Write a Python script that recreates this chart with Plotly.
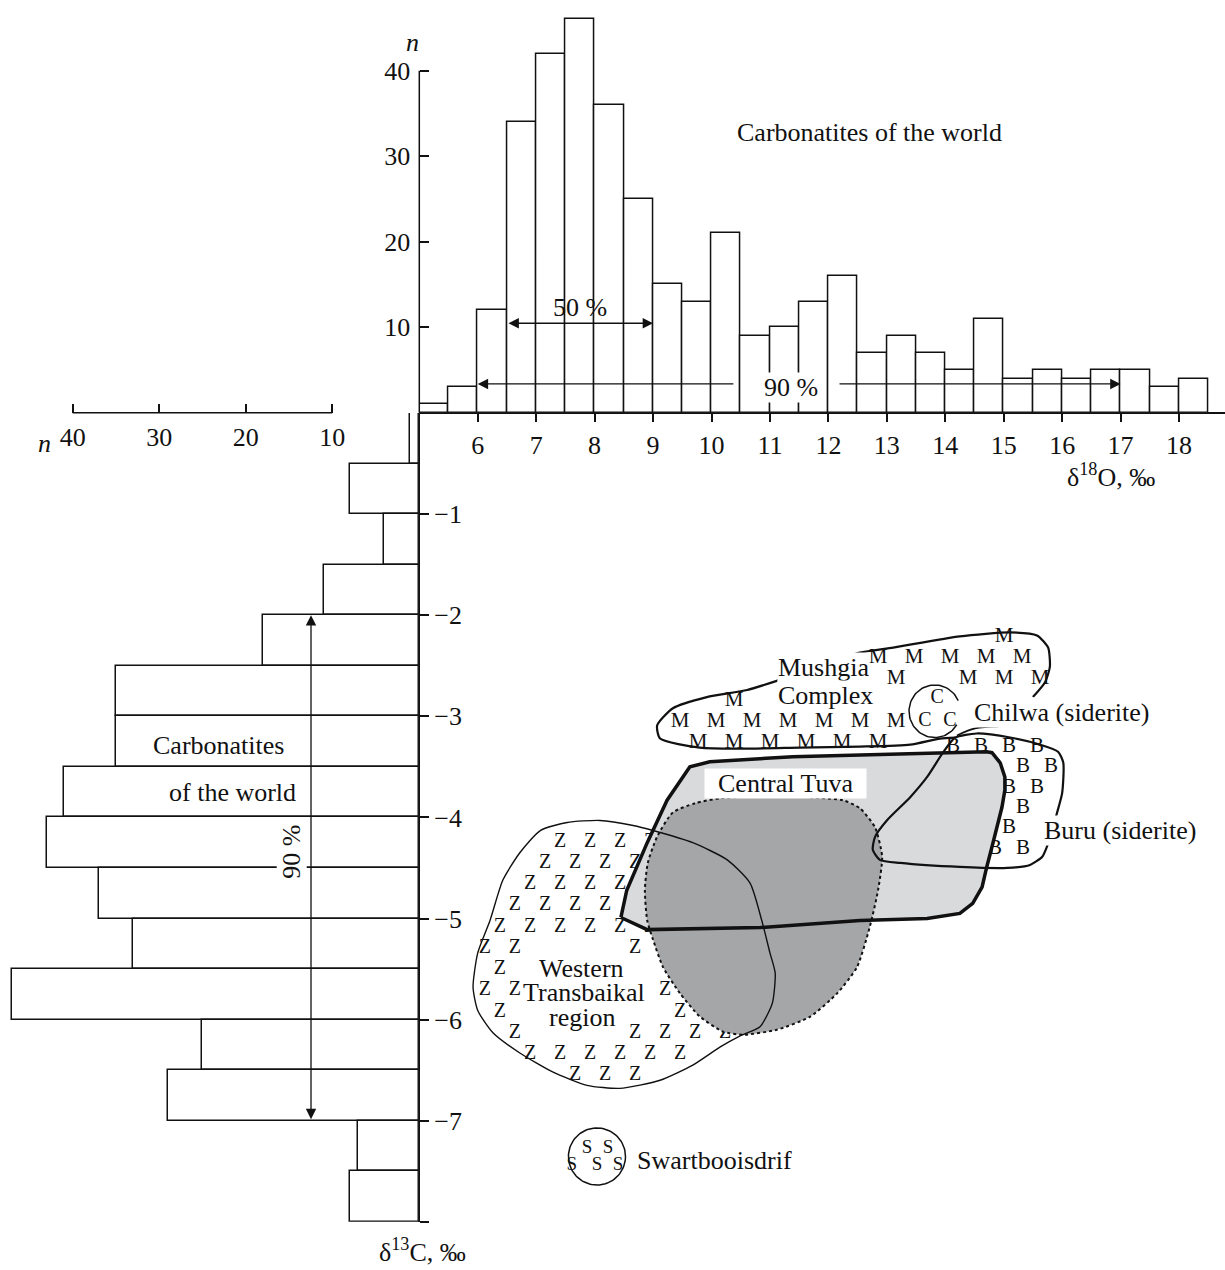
import numpy as np
import plotly.graph_objects as go

# ---------------- data ----------------
BIN_WIDTH = 0.5
O18_BIN_START = [5.0, 5.5, 6.0, 6.5, 7.0, 7.5, 8.0, 8.5, 9.0, 9.5, 10.0, 10.5, 11.0, 11.5,
                 12.0, 12.5, 13.0, 13.5, 14.0, 14.5, 15.0, 15.5, 16.0, 16.5, 17.0, 17.5, 18.0]
O18_COUNTS = [1, 3, 12, 34, 42, 46, 36, 25, 15, 13, 21, 9, 10, 13,
              16, 7, 9, 7, 5, 11, 4, 5, 4, 5, 5, 3, 4]

C13_BIN_TOP = [0.0, -0.5, -1.0, -1.5, -2.0, -2.5, -3.0, -3.5,
               -4.0, -4.5, -5.0, -5.5, -6.0, -6.5, -7.0, -7.5]
C13_COUNTS = [1, 8, 4, 11, 18, 35, 35, 41, 43, 37, 33, 47, 25, 29, 7, 8]

O18_TICKS = [6, 7, 8, 9, 10, 11, 12, 13, 14, 15, 16, 17, 18]
C13_TICKS = [-1, -2, -3, -4, -5, -6, -7, -8]
C13_TICKTEXT = ["\u22121", "\u22122", "\u22123", "\u22124", "\u22125", "\u22126", "\u22127", ""]
N_TICKS = [10, 20, 30, 40]

# fields in (delta18O, delta13C)
CENTRAL_TUVA_O18 = [8.45, 8.55, 8.90, 9.24, 9.63, 9.97, 11.39, 13.23, 14.71, 14.80, 14.94, 15.02,
                    15.02, 14.97, 14.89, 14.80, 14.71, 14.63, 14.47, 14.25, 13.69, 12.54, 10.83, 8.90]
CENTRAL_TUVA_C13 = [-4.99, -4.72, -4.25, -3.83, -3.50, -3.45, -3.40, -3.37, -3.35, -3.36, -3.46, -3.60,
                    -3.73, -3.90, -4.10, -4.29, -4.49, -4.69, -4.85, -4.95, -5.00, -5.02, -5.09, -5.11]

CORE_O18 = [10.15, 11.17, 12.25, 12.54, 12.80, 12.92, 12.85, 12.71, 12.49, 12.15, 11.69, 11.12,
            10.54, 10.20, 9.80, 9.46, 9.17, 9.00, 8.90, 8.86, 8.91, 9.07, 9.34, 9.72]
CORE_C13 = [-3.81, -3.79, -3.83, -3.91, -4.10, -4.39, -4.72, -5.08, -5.48, -5.74, -5.97, -6.10,
            -6.15, -6.12, -5.97, -5.74, -5.48, -5.21, -5.02, -4.72, -4.45, -4.19, -3.95, -3.86]

TRANSBAIKAL_O18 = [8.66, 9.00, 9.68, 10.27, 10.66, 10.86, 11.00, 11.09, 11.04, 10.83, 10.49, 10.15,
                   9.68, 9.12, 8.43, 7.87, 7.29, 6.72, 6.26, 6.00, 5.92, 6.00, 6.21, 6.43, 6.72,
                   7.07, 7.53, 8.09]
TRANSBAIKAL_C13 = [-4.08, -4.13, -4.25, -4.42, -4.65, -5.02, -5.34, -5.54, -5.84, -6.07, -6.16, -6.27,
                   -6.45, -6.60, -6.68, -6.65, -6.52, -6.33, -6.13, -5.91, -5.68, -5.34, -5.02, -4.62,
                   -4.35, -4.13, -4.05, -4.03]

MUSHGIA_O18 = [15.50, 15.71, 15.79, 15.76, 15.57, 15.11, 14.25, 13.11, 12.54, 12.03, 11.17, 10.61,
               9.92, 9.34, 9.07, 9.12, 9.80, 10.49, 11.51, 12.54, 13.40, 13.91, 14.17]
MUSHGIA_C13 = [-2.81, -2.66, -2.51, -2.32, -2.20, -2.17, -2.21, -2.32, -2.37, -2.47, -2.64, -2.74,
               -2.81, -2.92, -3.09, -3.22, -3.31, -3.32, -3.31, -3.30, -3.28, -3.22, -3.21]

BURU_O18 = [14.17, 14.54, 15.11, 15.62, 15.93, 16.02, 16.00, 15.91, 15.83, 15.74, 15.66, 15.45,
            15.06, 14.25, 13.23, 12.88, 12.76, 12.80, 13.00, 13.40, 13.69, 13.96]
BURU_C13 = [-3.21, -3.17, -3.21, -3.28, -3.35, -3.46, -3.76, -3.96, -4.13, -4.29, -4.39, -4.47,
            -4.50, -4.49, -4.45, -4.42, -4.32, -4.19, -4.03, -3.80, -3.60, -3.36]

CHILWA_LINK_O18 = [14.20, 14.51, 14.91]
CHILWA_LINK_C13 = [-3.19, -3.12, -3.10]

CHILWA_CENTER = (13.82, -2.95)
CHILWA_HALF = (0.44, 0.26)
CHILWA_C_O18 = [13.86, 13.65, 14.08]
CHILWA_C_C13 = [-2.82, -3.05, -3.05]

SWART_CENTER = (8.04, -7.354)
SWART_HALF = (0.488, 0.282)
SWART_S_O18 = [7.87, 8.23, 7.61, 8.04, 8.40]
SWART_S_C13 = [-7.27, -7.27, -7.44, -7.44, -7.44]

# ---------------- geometry of the page ----------------
W, H = 1225, 1270
AX_X = 419.3          # vertical axis line (px)
BASE_Y = 412.7        # horizontal axis lines (px)
PX_O18 = 58.44
PX_C13 = 101.1
PX_N_TOP = 8.55
PX_N_LEFT = 8.65

FONT = "Liberation Serif"
BLACK = "#111111"

x_dom = [AX_X / W, 1.0]
x_rng = [5.0, 5.0 + (W - AX_X) / PX_O18]
y_dom = [1 - (413 + 8 * PX_C13) / H, 1 - 413 / H]
y2_dom = [1 - BASE_Y / H, 1.0]
y2_rng = [0, BASE_Y / PX_N_TOP]
x2_dom = [0, 418.7 / W]
x2_rng = [418.7 / PX_N_LEFT, 0]
base_paper = 1 - BASE_Y / H

# field labels: shown text, plain text, x, y, xanchor, approx width (px)
FIELD_LABELS = [
    ("\u00a0\u00a0Central Tuva\u00a0\u00a0", "Central Tuva", 11.27, -3.66, "center", 160),
    ("Mushgia", "Mushgia", 11.91, -2.52, "center", 92),
    ("Complex", "Complex", 11.95, -2.79, "center", 96),
    ("Chilwa (siderite)", "Chilwa (siderite)", 14.47, -2.967, "left", 178),
    ("Buru (siderite)", "Buru (siderite)", 15.67, -4.125, "left", 154),
    ("Western", "Western", 7.78, -5.49, "center", 88),
    ("Transbaikal", "Transbaikal", 7.81, -5.727, "center", 124),
    ("region", "region", 7.78, -5.984, "center", 68),
]
LABEL_HALF_H_PX = 15


def inside(px, py, xs, ys):
    c = False
    j = len(xs) - 1
    for i in range(len(xs)):
        if (ys[i] > py) != (ys[j] > py):
            xint = (xs[j] - xs[i]) * (py - ys[i]) / (ys[j] - ys[i]) + xs[i]
            if px < xint:
                c = not c
        j = i
    return c


def blocked(xx, yy, lw, lh):
    for _, _, cx, cy, anc, wpx in FIELD_LABELS:
        hw = wpx / 2 / PX_O18
        x0 = cx - hw if anc == "center" else cx
        x1 = cx + hw if anc == "center" else cx + 2 * hw
        hh = LABEL_HALF_H_PX / PX_C13
        if x0 - lw < xx < x1 + lw and cy - hh - lh < yy < cy + hh + lh:
            return True
    dx = (xx - CHILWA_CENTER[0]) / (CHILWA_HALF[0] + lw)
    dy = (yy - CHILWA_CENTER[1]) / (CHILWA_HALF[1] + lh)
    return dx * dx + dy * dy < 1.0


def letter_grid(x0, y0, dx, dy, off, pxs, pys, mx, my, lw, lh):
    xs, ys = [], []
    for r in range(-30, 31):
        yy = y0 + r * dy
        sh = off if r % 2 else 0.0
        for k in range(-40, 41):
            xx = x0 + sh + k * dx
            pts = [(xx, yy), (xx - mx, yy), (xx + mx, yy), (xx, yy - my), (xx, yy + my)]
            if all(inside(a, b, pxs, pys) for a, b in pts) and not blocked(xx, yy, lw, lh):
                xs.append(xx)
                ys.append(yy)
    return xs, ys


def closed(a):
    return list(a) + [a[0]]


fig = go.Figure()

# ---- top histogram (delta18O) ----
fig.add_trace(go.Bar(
    x=[b + BIN_WIDTH / 2 for b in O18_BIN_START], y=O18_COUNTS, width=BIN_WIDTH,
    marker=dict(color="white", line=dict(color=BLACK, width=1.5)),
    xaxis="x", yaxis="y2", hoverinfo="skip"))

# ---- left histogram (delta13C) ----
fig.add_trace(go.Bar(
    y=[b - BIN_WIDTH / 2 for b in C13_BIN_TOP], x=C13_COUNTS, width=BIN_WIDTH, orientation="h",
    marker=dict(color="white", line=dict(color=BLACK, width=1.5)),
    xaxis="x2", yaxis="y", hoverinfo="skip"))

# ---- hatch letters ----
mx_, my_ = letter_grid(9.461, -3.052, 0.616, 0.2107, 0.308, MUSHGIA_O18, MUSHGIA_C13,
                       0.05, 0.02, 0.15, 0.10)
bx_, by_ = letter_grid(14.133, -3.30, 0.479, 0.2018, 0.2396, BURU_O18, BURU_C13,
                       0.04, 0.02, 0.11, 0.10)
zx_, zy_ = letter_grid(6.894, -4.240, 0.5134, 0.2102, 0.2567, TRANSBAIKAL_O18, TRANSBAIKAL_C13,
                       0.04, 0.03, 0.10, 0.10)
for xs, ys, ch, sz in [(mx_, my_, "M", 21), (bx_, by_, "B", 21), (zx_, zy_, "Z", 20)]:
    fig.add_trace(go.Scatter(x=xs, y=ys, mode="text", text=[ch] * len(xs),
                             textfont=dict(family=FONT, size=sz, color=BLACK),
                             xaxis="x", yaxis="y", hoverinfo="skip"))

# ---- Central Tuva fill ----
fig.add_trace(go.Scatter(x=closed(CENTRAL_TUVA_O18), y=closed(CENTRAL_TUVA_C13), mode="none",
                         fill="toself", fillcolor="#d9dadc", xaxis="x", yaxis="y", hoverinfo="skip"))
# ---- dark core ----
fig.add_trace(go.Scatter(x=closed(CORE_O18), y=closed(CORE_C13), mode="lines",
                         fill="toself", fillcolor="#a5a6a8",
                         line=dict(color=BLACK, width=2, dash="dot", shape="spline", smoothing=0.6),
                         xaxis="x", yaxis="y", hoverinfo="skip"))
# ---- Central Tuva outline ----
fig.add_trace(go.Scatter(x=closed(CENTRAL_TUVA_O18), y=closed(CENTRAL_TUVA_C13), mode="lines",
                         line=dict(color=BLACK, width=3.5), xaxis="x", yaxis="y", hoverinfo="skip"))
# ---- outlines ----
fig.add_trace(go.Scatter(x=closed(TRANSBAIKAL_O18), y=closed(TRANSBAIKAL_C13), mode="lines",
                         line=dict(color=BLACK, width=1.4, shape="spline", smoothing=0.6),
                         xaxis="x", yaxis="y", hoverinfo="skip"))
fig.add_trace(go.Scatter(x=closed(BURU_O18), y=closed(BURU_C13), mode="lines",
                         line=dict(color=BLACK, width=2.2, shape="spline", smoothing=0.6),
                         xaxis="x", yaxis="y", hoverinfo="skip"))
fig.add_trace(go.Scatter(x=MUSHGIA_O18, y=MUSHGIA_C13, mode="lines",
                         line=dict(color=BLACK, width=2.2, shape="spline", smoothing=0.6),
                         xaxis="x", yaxis="y", hoverinfo="skip"))
fig.add_trace(go.Scatter(x=CHILWA_LINK_O18, y=CHILWA_LINK_C13, mode="lines",
                         line=dict(color=BLACK, width=1.8, shape="spline"),
                         xaxis="x", yaxis="y", hoverinfo="skip"))

# ---- Chilwa circle ----
t = np.radians(np.linspace(0, 360, 90))
fig.add_trace(go.Scatter(x=CHILWA_CENTER[0] + CHILWA_HALF[0] * np.cos(t),
                         y=CHILWA_CENTER[1] + CHILWA_HALF[1] * np.sin(t),
                         mode="none", fill="toself", fillcolor="white",
                         xaxis="x", yaxis="y", hoverinfo="skip"))
ta = np.radians(np.linspace(24, 329, 80))
fig.add_trace(go.Scatter(x=CHILWA_CENTER[0] + CHILWA_HALF[0] * np.cos(ta),
                         y=CHILWA_CENTER[1] + CHILWA_HALF[1] * np.sin(ta),
                         mode="lines", line=dict(color=BLACK, width=1.5),
                         xaxis="x", yaxis="y", hoverinfo="skip"))
fig.add_trace(go.Scatter(x=CHILWA_C_O18, y=CHILWA_C_C13, mode="text", text=["C"] * 3,
                         textfont=dict(family=FONT, size=20, color=BLACK),
                         xaxis="x", yaxis="y", hoverinfo="skip"))

# ---- Swartbooisdrif circle ----
fig.add_trace(go.Scatter(x=SWART_CENTER[0] + SWART_HALF[0] * np.cos(t),
                         y=SWART_CENTER[1] + SWART_HALF[1] * np.sin(t),
                         mode="lines", line=dict(color=BLACK, width=1.5),
                         xaxis="x", yaxis="y", hoverinfo="skip"))
fig.add_trace(go.Scatter(x=SWART_S_O18, y=SWART_S_C13, mode="text", text=["S"] * 5,
                         textfont=dict(family=FONT, size=19, color=BLACK),
                         xaxis="x", yaxis="y", hoverinfo="skip"))

tickfont = dict(family=FONT, size=26, color=BLACK)
axis_common = dict(showgrid=False, zeroline=False, tickfont=tickfont, ticklen=9, tickwidth=1.5,
                   tickcolor=BLACK, linecolor=BLACK, linewidth=1.5, fixedrange=True)

fig.update_layout(
    width=W, height=H, margin=dict(l=0, r=0, t=0, b=0, pad=0),
    paper_bgcolor="white", plot_bgcolor="rgba(0,0,0,0)", showlegend=False,
    font=dict(family=FONT, size=26, color=BLACK),
    bargap=0,
    xaxis=dict(domain=x_dom, range=x_rng, anchor="free", position=base_paper, side="bottom",
               showline=True, ticks="outside", tickmode="array", tickvals=O18_TICKS, **axis_common),
    yaxis=dict(domain=y_dom, range=[-8, 0], anchor="free", position=x_dom[0], side="right",
               showline=True, ticks="outside", tickmode="array", tickvals=C13_TICKS,
               ticktext=C13_TICKTEXT, **axis_common),
    yaxis2=dict(domain=y2_dom, range=y2_rng, anchor="free", position=x_dom[0], side="left",
                showline=False, ticks="inside", tickmode="array", tickvals=N_TICKS,
                ticklabelstandoff=9, **axis_common),
    xaxis2=dict(domain=x2_dom, range=x2_rng, anchor="free", position=base_paper, side="bottom",
                showline=False, ticks="inside", tickmode="array", tickvals=N_TICKS,
                ticklabelstandoff=6, **axis_common),
)

# axis lines of the count scales
fig.add_shape(type="line", xref="paper", yref="y2", x0=x_dom[0], x1=x_dom[0], y0=0, y1=40,
              line=dict(color=BLACK, width=1.5))
fig.add_shape(type="line", xref="x2", yref="paper", x0=40, x1=10, y0=base_paper, y1=base_paper,
              line=dict(color=BLACK, width=1.5))

lab = dict(family=FONT, size=26, color=BLACK)
ARROW = dict(arrowhead=2, arrowsize=1.6, arrowwidth=1.3, arrowcolor=BLACK)
ann = []
ann.append(dict(xref="paper", yref="paper", x=404 / W, y=1 - 26 / H, yanchor="top",
                text="<i>n</i>", showarrow=False, font=lab))
ann.append(dict(xref="paper", yref="paper", x=53 / W, y=1 - 443 / H, xanchor="right",
                text="<i>n</i>", showarrow=False, font=lab))
ann.append(dict(xref="paper", yref="paper", x=1157 / W, y=1 - 475 / H,
                text="\u03b4<sup>18</sup>O, \u2030", showarrow=False, font=lab))
ann.append(dict(xref="paper", yref="paper", x=422 / W, y=1 - 1269 / H, yanchor="bottom",
                text="\u03b4<sup>13</sup>C, \u2030", showarrow=False, font=lab))
ann.append(dict(xref="x", yref="y2", x=12.71, y=32.8, text="Carbonatites of the world",
                showarrow=False, font=lab))
# 50 % arrow
ann.append(dict(xref="x", yref="y2", x=9.0, y=10.46, ax=6.5, ay=10.46, axref="x", ayref="y2",
                text="", showarrow=True, startarrowhead=2, arrowside="end+start",
                startarrowsize=1.6, **ARROW))
ann.append(dict(xref="x", yref="y2", x=7.75, y=12.25, text="50 %", showarrow=False, font=lab))
# 90 % arrows (top)
ann.append(dict(xref="x", yref="y2", x=6.0, y=3.36, ax=10.40, ay=3.36, axref="x", ayref="y2",
                text="", showarrow=True, **ARROW))
ann.append(dict(xref="x", yref="y2", x=17.0, y=3.36, ax=12.165, ay=3.36, axref="x", ayref="y2",
                text="", showarrow=True, **ARROW))
ann.append(dict(xref="x", yref="y2", x=11.36, y=2.89, text="90 %", showarrow=False, font=lab,
                bgcolor="white", borderpad=0))
# left histogram annotations
ann.append(dict(xref="x2", yref="y", x=12.45, y=-2.0, ax=12.45, ay=-7.0, axref="x2", ayref="y",
                text="", showarrow=True, startarrowhead=2, arrowside="end+start",
                startarrowsize=1.6, **ARROW))
ann.append(dict(xref="x2", yref="y", x=14.65, y=-4.34, text="90 %", textangle=-90, showarrow=False,
                font=lab, bgcolor="white", borderpad=0))
ann.append(dict(xref="x2", yref="y", x=23.2, y=-3.29, text="Carbonatites", showarrow=False, font=lab))
ann.append(dict(xref="x2", yref="y", x=21.56, y=-3.75, text="of the world", showarrow=False, font=lab))
# field labels
for txt, _, cx, cy, anc, _w in FIELD_LABELS:
    ann.append(dict(xref="x", yref="y", x=cx, y=cy, text=txt, showarrow=False, font=lab,
                    xanchor=anc, bgcolor="white", borderpad=0))
ann.append(dict(xref="x", yref="y", x=8.69, y=-7.389, text="Swartbooisdrif", showarrow=False,
                font=lab, xanchor="left"))
fig.update_layout(annotations=ann)

fig.write_html("out.html")
